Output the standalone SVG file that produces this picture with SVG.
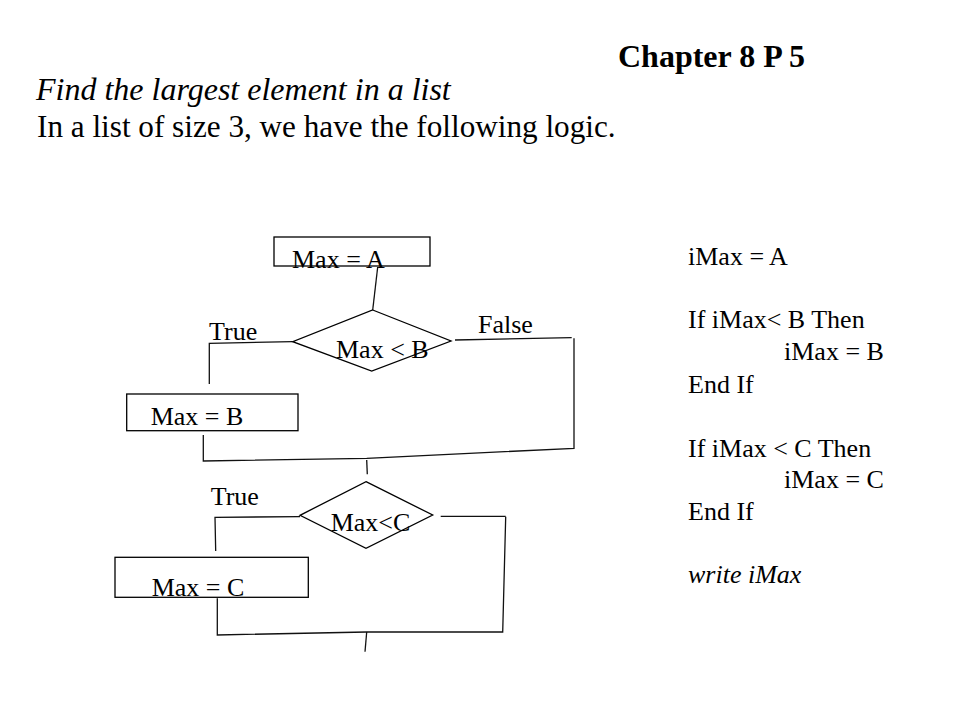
<svg xmlns="http://www.w3.org/2000/svg" width="961" height="721" viewBox="0 0 961 721">
<style>
text{font-family:"Liberation Serif","Times New Roman",serif;fill:#000}
.t{font-size:26px}
.big{font-size:31.2px}
.n{fill:#fff;stroke:#000;stroke-width:1.3}
.c{fill:none;stroke:#111;stroke-width:1.3}
</style>
<rect width="961" height="721" fill="#fff"/>
<text x="618" y="67" font-weight="bold" font-size="32">Chapter 8 P 5</text>
<text x="36" y="100" font-style="italic" font-size="32">Find the largest element in a list</text>
<text class="big" x="37" y="137">In a list of size 3, we have the following logic.</text>
<g id="connectors">
<polyline class="c" points="377.7,267 372.7,310"/>
<polyline class="c" points="292.7,341.7 209.3,343.3 209.3,384"/>
<polyline class="c" points="203.3,435 203.3,461 366.7,458.3 574,448.3 574,338.3"/>
<polyline class="c" points="455,340 571.7,337.7"/>
<polyline class="c" points="366.7,460 367.3,474.3"/>
<polyline class="c" points="300,516.7 215,517.3 215.7,551"/>
<polyline class="c" points="217.3,598.3 217.3,635 366.7,632 502.7,632 505.7,516.7"/>
<polyline class="c" points="440.7,516.3 505.7,516.3"/>
<polyline class="c" points="366.7,632 365,651.7"/>
</g>
<g id="n1">
<rect class="n" x="274" y="237" width="156" height="29"/>
<text class="t" x="292" y="268">Max = A</text>
</g>
<g id="n2">
<polygon class="n" points="372.7,310 451,341 371.7,371 292.7,341.7"/>
<text class="t" x="336" y="358">Max &lt; B</text>
</g>
<text class="t" x="209" y="340">True</text>
<text class="t" x="478" y="333">False</text>
<g id="n3">
<rect class="n" x="126.7" y="394" width="171.3" height="36.7"/>
<text class="t" x="150.7" y="425">Max = B</text>
</g>
<g id="n4">
<polygon class="n" points="366,481.7 432.7,515 366,548.3 300,515.3"/>
<text class="t" x="330.7" y="531">Max&lt;C</text>
</g>
<text class="t" x="210.7" y="505">True</text>
<g id="n5">
<rect class="n" x="115" y="557.3" width="193.3" height="40"/>
<text class="t" x="151.7" y="596">Max = C</text>
</g>
<g id="code">
<text class="t" x="688" y="265">iMax = A</text>
<text class="t" x="688" y="328">If iMax&lt; B Then</text>
<text class="t" x="784" y="360">iMax = B</text>
<text class="t" x="688" y="393">End If</text>
<text class="t" x="688" y="457">If iMax &lt; C Then</text>
<text class="t" x="784" y="488">iMax = C</text>
<text class="t" x="688" y="520">End If</text>
<text class="t" x="688" y="583" font-style="italic">write iMax</text>
</g>
</svg>
